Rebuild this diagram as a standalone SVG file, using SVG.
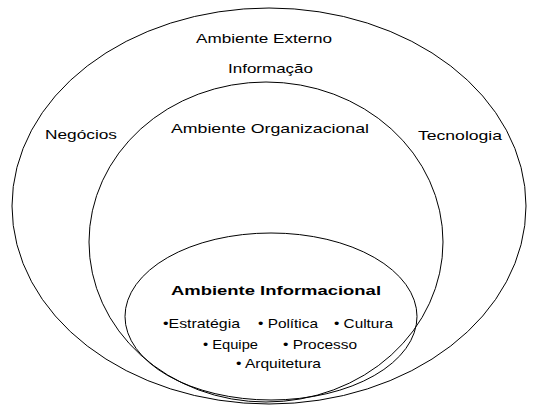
<svg xmlns="http://www.w3.org/2000/svg" width="539" height="405" viewBox="0 0 539 405">
<style>
.e{fill:none;stroke:#000;stroke-width:1}
.t{font-family:"Liberation Sans",Arial,sans-serif;font-size:13px;fill:#000}
.b{font-weight:bold}
</style>
<rect width="539" height="405" fill="#fff"/>
<g id="externo">
<ellipse class="e" cx="269" cy="206" rx="257" ry="198"/>
<text class="t" x="196" y="43" textLength="136" lengthAdjust="spacingAndGlyphs">Ambiente Externo</text>
<text class="t" x="228" y="73" textLength="85" lengthAdjust="spacingAndGlyphs">Informação</text>
<text class="t" x="45" y="139" textLength="72" lengthAdjust="spacingAndGlyphs">Negócios</text>
<text class="t" x="418" y="140" textLength="84" lengthAdjust="spacingAndGlyphs">Tecnologia</text>
</g>
<g id="organizacional">
<ellipse class="e" cx="266" cy="242" rx="177" ry="160"/>
<text class="t" x="171" y="133" textLength="198" lengthAdjust="spacingAndGlyphs">Ambiente Organizacional</text>
</g>
<g id="informacional">
<ellipse class="e" cx="271" cy="316.5" rx="146" ry="83.5"/>
<text class="t b" x="171" y="295" textLength="210" lengthAdjust="spacingAndGlyphs">Ambiente Informacional</text>
<text class="t" x="163" y="328" textLength="77" lengthAdjust="spacingAndGlyphs">•Estratégia</text>
<text class="t" x="258" y="328" textLength="60" lengthAdjust="spacingAndGlyphs">• Política</text>
<text class="t" x="334" y="328" textLength="59" lengthAdjust="spacingAndGlyphs">• Cultura</text>
<text class="t" x="203" y="349" textLength="55" lengthAdjust="spacingAndGlyphs">• Equipe</text>
<text class="t" x="283" y="349" textLength="74" lengthAdjust="spacingAndGlyphs">• Processo</text>
<text class="t" x="236" y="368" textLength="85" lengthAdjust="spacingAndGlyphs">• Arquitetura</text>
</g>
<g id="connectors"/>
</svg>
